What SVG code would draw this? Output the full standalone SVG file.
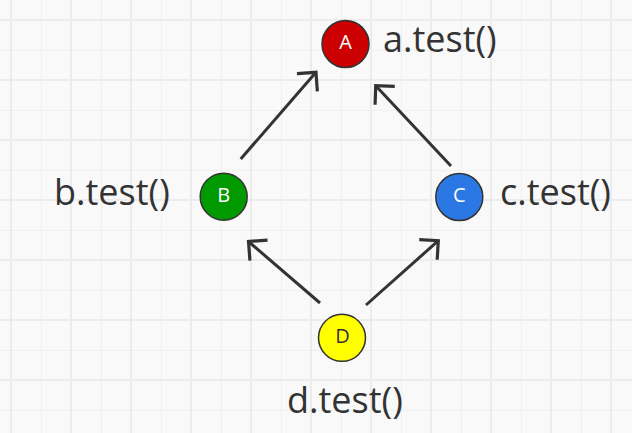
<svg xmlns="http://www.w3.org/2000/svg" width="632" height="433" viewBox="0 0 632 433">
<defs>
<style>
.node circle{stroke:#333;stroke-width:1.5}
.lbl{font-family:"Open Sans","Noto Sans",sans-serif;font-size:20px;text-anchor:middle;fill:#fff}
.dark{fill:#333}
.txt{font-family:"Open Sans","Noto Sans",sans-serif;font-size:36px;fill:#333}
.conn path{fill:none;stroke:#333;stroke-width:3;marker-end:url(#ah)}
</style>
<pattern id="grid" patternUnits="userSpaceOnUse" x="-19" y="-10" width="60" height="60">
<rect x="0" y="0" width="60" height="60" fill="#f9f9f9"/>
<rect x="0" y="0" width="1" height="60" fill="#efefef"/>
<rect x="0" y="0" width="60" height="1" fill="#efefef"/>
<rect x="29" y="0" width="2" height="60" fill="#ececec"/>
<rect x="0" y="29" width="60" height="2" fill="#ececec"/>
</pattern>
<marker id="ah" markerUnits="userSpaceOnUse" orient="auto" refX="0" refY="0" markerWidth="40" markerHeight="40" viewBox="-20 -20 40 40" overflow="visible">
<path d="M-13.5,-13.5 L0,0 L-13.5,13.5" fill="none" stroke="#333" stroke-width="3.2"/>
</marker>
</defs>
<rect width="632" height="433" fill="url(#grid)"/>
<g id="connectors" class="conn">
<path d="M240.7,159 L316,72.3"/>
<path d="M451,166 L375.7,85.7"/>
<path d="M320,303 L248.5,241.5"/>
<path d="M366,305 L438.3,240.7"/>
</g>
<g id="A" class="node">
<circle cx="345.5" cy="44" r="23.5" fill="#cc0000"/>
<text class="lbl" x="345.5" y="48.5">A</text>
<text class="txt" x="383" y="52">a.test()</text>
</g>
<g id="B" class="node">
<circle cx="223.7" cy="196.7" r="23.5" fill="#009a00"/>
<text class="lbl" x="223.7" y="201.5">B</text>
<text class="txt" x="54" y="205">b.test()</text>
</g>
<g id="C" class="node">
<circle cx="459.3" cy="197" r="23.5" fill="#2b78e4"/>
<text class="lbl" x="459.3" y="201.8">C</text>
<text class="txt" x="500" y="205">c.test()</text>
</g>
<g id="D" class="node">
<circle cx="342" cy="337.8" r="23.5" fill="#ffff00"/>
<text class="lbl dark" x="342.5" y="342.6">D</text>
<text class="txt" x="287" y="413">d.test()</text>
</g>
</svg>
